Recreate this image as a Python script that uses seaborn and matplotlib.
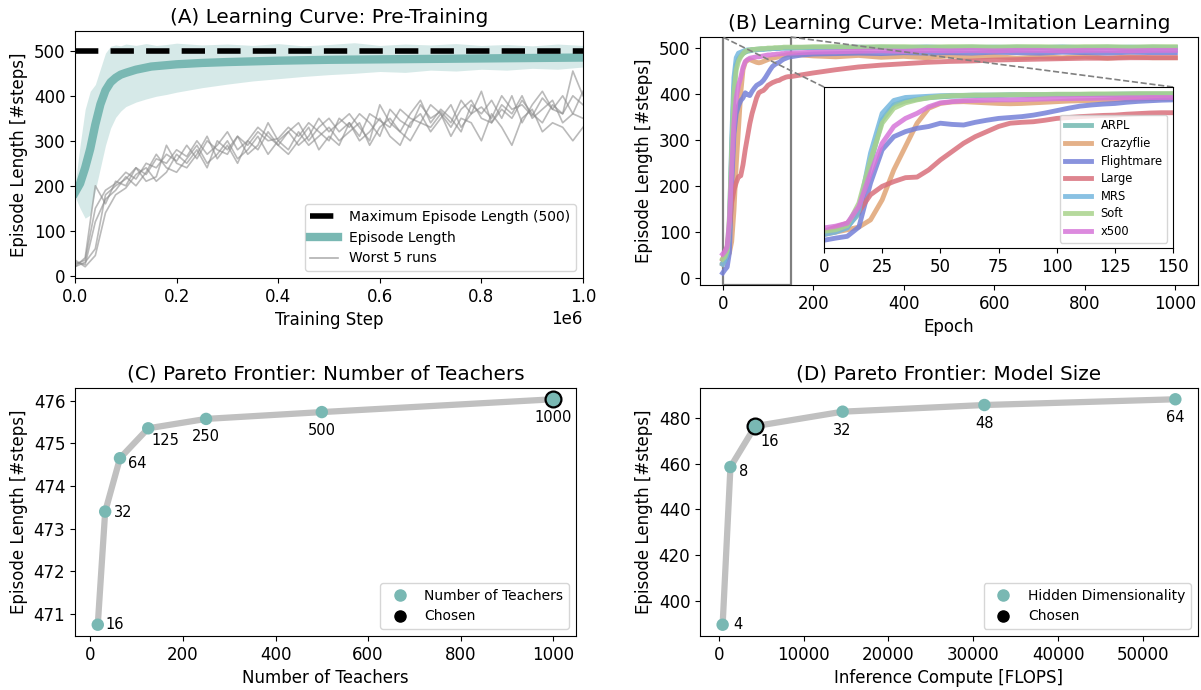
import numpy as np
import pandas as pd
import seaborn as sns
import matplotlib.pyplot as plt
from matplotlib.lines import Line2D
from mpl_toolkits.axes_grid1.inset_locator import mark_inset

plt.rcParams['font.size'] = 12
plt.rcParams['font.family'] = ['DejaVu Sans']

# ---------------- data ----------------
# (A) pre-training learning curve
mean_step = [0, 0.01, 0.02, 0.03, 0.04, 0.05, 0.06, 0.07, 0.08, 0.09, 0.1, 0.12, 0.15,
             0.2, 0.25, 0.3, 0.4, 0.5, 0.6, 0.7, 0.8, 0.9, 1.0]
mean_len = [185, 205, 240, 282, 336, 381, 412, 430, 440, 447, 451, 458, 465,
            470, 473, 475, 478, 480, 481, 482, 483, 484, 485]

band_step = [0, 0.01, 0.02, 0.03, 0.04, 0.05, 0.06, 0.07, 0.08, 0.09, 0.1, 0.12, 0.14, 0.16,
             0.18, 0.2, 0.25, 0.3, 0.35, 0.4, 0.45, 0.5, 0.55, 0.6, 0.65, 0.7, 0.75, 0.8,
             0.85, 0.9, 0.95, 1.0]
band_low = [176, 150, 128, 135, 190, 240, 290, 328, 352, 366, 376, 386, 393, 399,
            403, 408, 418, 426, 433, 438, 443, 447, 450, 454, 452, 457, 455, 459,
            457, 461, 459, 464]
band_high = [200, 290, 370, 410, 425, 460, 495, 510, 513, 511, 515, 512, 516, 512,
             514, 517, 513, 515, 512, 516, 511, 514, 518, 512, 515, 513, 516, 512,
             514, 511, 515, 512]

worst_runs = [
    [25, 35, 150, 190, 205, 230, 215, 250, 240, 270, 255, 290, 260, 300, 280, 270, 310,
     290, 320, 300, 305, 330, 310, 340, 320, 300, 350, 330, 360, 340, 310, 370, 345, 330,
     380, 350, 365, 340, 390, 360, 375, 350, 400, 370, 380, 355, 395, 370, 360, 400, 380],
    [20, 30, 60, 180, 200, 215, 240, 225, 260, 250, 280, 265, 300, 270, 290, 320, 280,
     300, 330, 310, 290, 320, 340, 300, 330, 350, 320, 340, 310, 360, 345, 330, 370, 350,
     340, 380, 360, 330, 370, 390, 350, 340, 380, 360, 400, 350, 370, 390, 340, 360, 350],
    [30, 25, 120, 170, 190, 220, 200, 230, 270, 240, 230, 260, 290, 250, 270, 300, 260,
     280, 310, 270, 300, 280, 320, 290, 310, 330, 300, 320, 340, 290, 330, 350, 320, 300,
     340, 330, 360, 310, 350, 340, 300, 360, 330, 290, 350, 370, 320, 340, 330, 300, 330],
    [20, 40, 200, 160, 210, 200, 240, 210, 220, 290, 250, 240, 270, 310, 260, 290, 250,
     300, 280, 320, 290, 270, 300, 330, 280, 310, 290, 340, 300, 320, 350, 310, 290, 340,
     360, 320, 350, 380, 330, 360, 410, 340, 370, 350, 390, 360, 340, 380, 360, 455, 400],
    [35, 20, 45, 140, 180, 195, 225, 240, 210, 230, 270, 250, 280, 240, 300, 280, 310,
     270, 290, 340, 300, 320, 290, 310, 350, 320, 340, 360, 330, 300, 380, 340, 320, 360,
     390, 340, 370, 350, 320, 380, 360, 390, 350, 400, 340, 380, 410, 370, 400, 360, 410],
]
max_len = 500

# (B) meta-imitation learning curves
epochs = [0, 5, 10, 15, 20, 25, 30, 35, 40, 45, 50, 55, 60, 65, 70, 75, 80, 85, 90, 95,
          100, 105, 110, 115, 120, 125, 130, 135, 140, 145, 150,
          175, 200, 250, 300, 350, 400, 450, 500, 550, 600, 650, 700, 750, 800, 850, 900, 950, 1000]
env_names = ['ARPL', 'Crazyflie', 'Flightmare', 'Large', 'MRS', 'Soft', 'x500']
env_curves = {
    'ARPL': [33, 40, 55, 100, 268, 413, 463, 476, 482, 487, 490, 492, 493, 494, 495, 495, 496,
             496, 496, 497, 497, 497, 498, 498, 498, 498, 499, 499, 499, 499, 499,
             500, 500, 501, 500, 501, 500, 501, 500, 501, 500, 501, 500, 501, 500, 501, 500, 501, 500],
    'Crazyflie': [30, 38, 46, 55, 79, 146, 246, 324, 402, 452, 468, 473, 474, 472, 470, 468, 467,
                  468, 470, 472, 474, 476, 477, 478, 479, 481, 482, 483, 484, 485, 485,
                  484, 482, 480, 483, 479, 481, 478, 482, 479, 481, 477, 480, 478, 481, 477, 480, 478, 478],
    'Flightmare': [11, 18, 24, 55, 202, 313, 357, 374, 385, 391, 402, 398, 396, 405, 412, 418, 421,
                   424, 429, 436, 444, 452, 459, 463, 466, 468, 472, 475, 477, 479, 480,
                   484, 486, 487, 488, 487, 489, 488, 489, 488, 490, 489, 488, 490, 489, 488, 490, 489, 489],
    'Large': [41, 55, 68, 107, 163, 191, 207, 220, 222, 246, 279, 307, 335, 357, 374, 391, 402,
              405, 407, 412, 418, 421, 424, 426, 428, 429, 432, 434, 436, 437, 437,
              441, 445, 452, 458, 462, 465, 468, 470, 471, 473, 474, 475, 476, 477, 477, 478, 478, 478],
    'MRS': [30, 38, 52, 110, 302, 435, 478, 488, 490, 492, 494, 495, 495, 496, 496, 496, 497,
            497, 497, 497, 498, 498, 498, 498, 498, 499, 499, 499, 499, 499, 499,
            500, 500, 500, 501, 500, 500, 501, 500, 500, 501, 500, 500, 501, 500, 500, 501, 500, 500],
    'Soft': [41, 46, 60, 135, 279, 402, 452, 470, 480, 487, 492, 494, 495, 496, 496, 497, 497,
             498, 498, 498, 499, 499, 499, 500, 500, 500, 500, 501, 501, 501, 501,
             501, 502, 502, 501, 502, 502, 501, 502, 502, 501, 502, 502, 501, 502, 502, 501, 502, 502],
    'x500': [52, 58, 68, 124, 235, 335, 391, 418, 435, 457, 470, 474, 477, 478, 479, 480, 480,
             481, 482, 483, 484, 484, 485, 485, 486, 486, 487, 487, 488, 488, 488,
             489, 490, 491, 492, 493, 492, 494, 493, 494, 493, 494, 494, 493, 494, 494, 493, 494, 494],
}
env_colors = ['#73b9b1', '#e0a474', '#7580d8', '#d9707c', '#74b7de', '#a9d38c', '#d676d9']

# (C) Pareto frontier: number of teachers
n_teachers = [16, 32, 64, 125, 250, 500, 1000]
teacher_len = [470.75, 473.4, 474.65, 475.35, 475.57, 475.73, 476.03]
chosen_teachers = 1000

# (D) Pareto frontier: model size
hidden_dims = [4, 8, 16, 32, 48, 64]
flops = [460, 1380, 4300, 14600, 31300, 53800]
hidden_len = [389.8, 458.5, 476.3, 482.6, 485.5, 488.0]
chosen_hidden = 16

# ---------------- style ----------------
teal = '#79b8b3'
line_gray = '#c0c0c0'
label_off_c = [(5.5, 0, 'left'), (6, -1, 'left'), (5.5, -4, 'left'), (2, -9, 'left'),
               (0, -12.5, 'center'), (0, -13, 'center'), (0, -13, 'center')]
label_off_d = [(8, 0, 'left'), (6.5, -3, 'left'), (4, -11, 'left'),
               (0, -13.5, 'center'), (0, -13, 'center'), (0, -13, 'center')]

W, H = 1201, 690
fig = plt.figure(figsize=(W / 100, H / 100), dpi=100)


def box(l, r, t, b):
    return [l / W, 1 - b / H, (r - l) / W, (b - t) / H]


axA = fig.add_axes(box(75, 583, 31, 278))
axB = fig.add_axes(box(700, 1198, 37, 285))
axC = fig.add_axes(box(75, 576, 388, 636))
axD = fig.add_axes(box(700, 1198, 388, 636))

# ---------------- (A) ----------------
band_x = np.array(band_step) * 1e6
axA.fill_between(band_x, band_low, band_high, color=teal, alpha=0.3, lw=0)
for run in worst_runs:
    sns.lineplot(x=np.linspace(0, 1e6, len(run)), y=run, ax=axA, color='#8c8c8c',
                 alpha=0.6, lw=1.2, legend=False)
sns.lineplot(x=np.array(mean_step) * 1e6, y=mean_len, ax=axA, color=teal, lw=6, legend=False)
axA.axhline(max_len, color='black', lw=4, dashes=(4.2, 2.2))
axA.set_xlim(0, 1e6)
axA.set_ylim(-5, 544)
axA.set_xlabel('Training Step')
axA.set_ylabel('Episode Length [#steps]')
axA.set_title('(A) Learning Curve: Pre-Training')
handles = [Line2D([], [], color='black', lw=4, dashes=(4.2, 2.2)),
           Line2D([], [], color=teal, lw=6),
           Line2D([], [], color='#b0b0b0', lw=1.2)]
axA.legend(handles, ['Maximum Episode Length (500)', 'Episode Length', 'Worst 5 runs'],
           loc='lower right', fontsize=10)

# ---------------- (B) ----------------
axIn = fig.add_axes(box(824, 1173, 87, 248))
for name, col in zip(env_names, env_colors):
    sns.lineplot(x=epochs, y=env_curves[name], ax=axB, color=col, lw=3.5, alpha=0.85, legend=False)
    sns.lineplot(x=epochs, y=env_curves[name], ax=axIn, color=col, lw=3.5, alpha=0.85,
                 label=name)
axB.set_xlim(-50, 1050)
axB.set_ylim(-15, 523)
axB.set_xlabel('Epoch')
axB.set_ylabel('Episode Length [#steps]')
axB.set_title('(B) Learning Curve: Meta-Imitation Learning')
axIn.set_xlim(0, 150)
axIn.set_ylim(-15, 523)
axIn.set_xticks([0, 25, 50, 75, 100, 125, 150])
axIn.tick_params(left=False, labelleft=False)
axIn.set_ylabel('')
leg = axIn.legend(loc='center right', bbox_to_anchor=(1, 0.43), fontsize=8.3,
                  labelspacing=0.4, handlelength=2.3)
for h in leg.get_lines():
    h.set_linewidth(3.5)
pp, p1, p2 = mark_inset(axB, axIn, loc1=2, loc2=1, fc='none', ec='gray', lw=1.2, ls='--')
pp.set_linestyle('-')
pp.set_linewidth(1.6)


# ---------------- (C) & (D) ----------------
def pareto(ax, xs, ys, labels, chosen, offs, legend_name):
    sns.lineplot(x=xs, y=ys, ax=ax, color=line_gray, lw=4.5, legend=False, sort=False)
    sns.scatterplot(x=xs, y=ys, ax=ax, color=teal, s=80, edgecolor='none', zorder=3,
                    legend=False)
    i = labels.index(chosen)
    sns.scatterplot(x=[xs[i]], y=[ys[i]], ax=ax, color=teal, s=130, edgecolor='black',
                    linewidth=1.6, zorder=4, legend=False)
    for x, y, lab, (dx, dy, ha) in zip(xs, ys, labels, offs):
        ax.annotate(str(lab), (x, y), xytext=(dx, dy), textcoords='offset points',
                    ha=ha, va='center', fontsize=10.5)
    handles = [Line2D([], [], ls='none', marker='o', color=teal, markersize=8),
               Line2D([], [], ls='none', marker='o', color='black', markersize=8)]
    ax.legend(handles, [legend_name, 'Chosen'], loc='lower right', fontsize=10)
    ax.set_ylabel('Episode Length [#steps]')


pareto(axC, n_teachers, teacher_len, n_teachers, chosen_teachers, label_off_c,
       'Number of Teachers')
axC.set_xlabel('Number of Teachers')
axC.set_title('(C) Pareto Frontier: Number of Teachers')

pareto(axD, flops, hidden_len, hidden_dims, chosen_hidden, label_off_d,
       'Hidden Dimensionality')
axD.set_xlabel('Inference Compute [FLOPS]')
axD.set_title('(D) Pareto Frontier: Model Size')

fig.savefig('out.png', dpi=100)
